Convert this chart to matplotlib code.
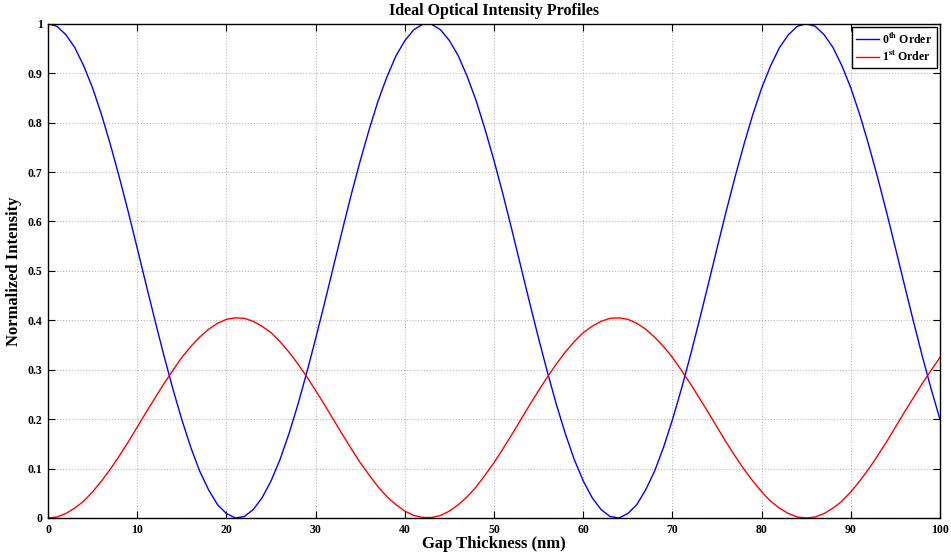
import numpy as np
import matplotlib.pyplot as plt

# gap thickness in nm, values every 1 nm
gap = list(range(0, 101))

order0 = [1.000, 0.995, 0.978, 0.952, 0.915, 0.870, 0.816, 0.755, 0.689, 0.619,
          0.546, 0.472, 0.399, 0.328, 0.261, 0.199, 0.143, 0.095, 0.057, 0.027,
          0.009, 0.000,
          0.003, 0.017, 0.041, 0.075, 0.118, 0.170, 0.229, 0.294, 0.363, 0.435,
          0.509, 0.583, 0.655, 0.723, 0.786, 0.844, 0.893, 0.935, 0.966, 0.988,
          0.999,
          0.999, 0.988, 0.966, 0.935, 0.893, 0.844, 0.786, 0.723, 0.655, 0.583,
          0.509, 0.435, 0.363, 0.294, 0.229, 0.170, 0.118, 0.075, 0.041, 0.017,
          0.003,
          0.000, 0.009, 0.027, 0.057, 0.095, 0.143, 0.199, 0.261, 0.328, 0.399,
          0.472, 0.546, 0.619, 0.689, 0.755, 0.816, 0.870, 0.915, 0.952, 0.978,
          0.995, 1.000,
          0.995, 0.978, 0.952, 0.915, 0.870, 0.816, 0.755, 0.689, 0.619, 0.546,
          0.472, 0.399, 0.328, 0.261, 0.199]

order1 = [0.000, 0.002, 0.009, 0.020, 0.034, 0.053, 0.075, 0.099, 0.126, 0.154,
          0.184, 0.214, 0.243, 0.272, 0.299, 0.325, 0.347, 0.366, 0.382, 0.394,
          0.402, 0.405,
          0.404, 0.398, 0.388, 0.375, 0.357, 0.336, 0.312, 0.286, 0.258, 0.229,
          0.199, 0.169, 0.140, 0.112, 0.087, 0.063, 0.043, 0.027, 0.014, 0.005,
          0.001,
          0.001, 0.005, 0.014, 0.027, 0.043, 0.063, 0.087, 0.112, 0.140, 0.169,
          0.199, 0.229, 0.258, 0.286, 0.312, 0.336, 0.357, 0.375, 0.388, 0.398,
          0.404,
          0.405, 0.402, 0.394, 0.382, 0.366, 0.347, 0.325, 0.299, 0.272, 0.243,
          0.214, 0.184, 0.154, 0.126, 0.099, 0.075, 0.053, 0.034, 0.020, 0.009,
          0.002, 0.000,
          0.002, 0.009, 0.020, 0.034, 0.053, 0.075, 0.099, 0.126, 0.154, 0.184,
          0.214, 0.243, 0.272, 0.299, 0.325]

xticks = list(range(0, 101, 10))
yticks = [0, 0.1, 0.2, 0.3, 0.4, 0.5, 0.6, 0.7, 0.8, 0.9, 1]
ylabels = ['0', '0.1', '0.2', '0.3', '0.4', '0.5', '0.6', '0.7', '0.8', '0.9', '1']

plt.rcParams['font.family'] = ['Liberation Serif', 'DejaVu Serif']
plt.rcParams['font.weight'] = 'bold'
plt.rcParams['mathtext.fontset'] = 'stix'
plt.rcParams['mathtext.default'] = 'bf'

fig = plt.figure(figsize=(9.51, 5.54), dpi=100)
ax = fig.add_axes([0.0505, 0.065, 0.938, 0.892])

ax.plot(gap, order0, color='blue', linewidth=1.0, label=r'0$^{th}$ Order')
ax.plot(gap, order1, color='red', linewidth=1.0, label=r'1$^{st}$ Order')

ax.set_xlim(0, 100)
ax.set_ylim(0, 1)
ax.set_xticks(xticks)
ax.set_xticklabels([str(t) for t in xticks])
ax.set_yticks(yticks)
ax.set_yticklabels(ylabels)
ax.tick_params(direction='in', top=True, right=True, length=5, width=0.8,
               labelsize=8.5, pad=4)
for lab in ax.get_xticklabels() + ax.get_yticklabels():
    lab.set_fontweight('bold')
for s in ax.spines.values():
    s.set_linewidth(1.0)

ax.grid(True, color='#b8b8b8', linewidth=0.8, linestyle=(0, (1, 1.6)))

ax.set_title('Ideal Optical Intensity Profiles', fontsize=11.5, fontweight='bold', pad=6)
ax.set_xlabel('Gap Thickness (nm)', fontsize=12, fontweight='bold', labelpad=0)
ax.set_ylabel('Normalized Intensity', fontsize=12, fontweight='bold', labelpad=4)

leg = ax.legend(loc='upper right', fontsize=8.5, fancybox=False, framealpha=1,
                edgecolor='black', handlelength=1.9, borderaxespad=0.3,
                handletextpad=0.3, labelspacing=0.25, borderpad=0.35)
leg.get_frame().set_linewidth(1.0)

plt.savefig('out.png', dpi=100)
